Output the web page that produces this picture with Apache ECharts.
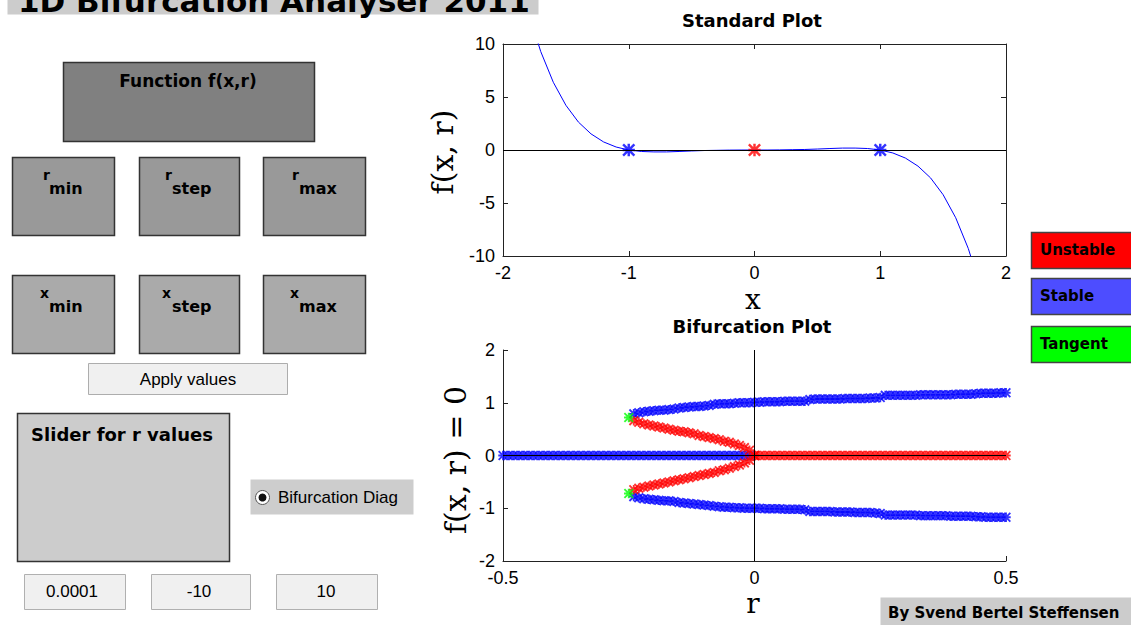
<!DOCTYPE html>
<html>
<head>
<meta charset="utf-8">
<script src="https://cdn.jsdelivr.net/npm/echarts@6/dist/echarts.min.js"></script>
<style>
html,body{margin:0;padding:0;background:#fff;}
#chart{width:1131px;height:625px;}
</style>
</head>
<body>
<div id="chart"></div>
<script>
// ---------- Standard plot data ----------
const xCurve = [-1.8,-1.7,-1.6,-1.5,-1.4,-1.3,-1.2,-1.1,-1.0,-0.9,-0.8,-0.7,-0.6,-0.5,-0.4,-0.3,-0.2,-0.1,0,0.1,0.2,0.3,0.4,0.5,0.6,0.7,0.8,0.9,1.0,1.1,1.2,1.3,1.4,1.5,1.6,1.7,1.8];
const fCurve = [13.06,9.29,6.39,4.22,2.63,1.52,0.76,0.28,0,-0.14,-0.18,-0.18,-0.14,-0.09,-0.05,-0.03,-0.01,0,0,0,0.01,0.03,0.05,0.09,0.14,0.18,0.18,0.14,0,-0.28,-0.76,-1.52,-2.63,-4.22,-6.39,-9.29,-13.06];
const rootStableX = [-1, 1];
const rootStableY = [0, 0];
const rootUnstableX = [0];
const rootUnstableY = [0];

// ---------- Bifurcation plot data ----------
const rZeroStable = [-0.50,-0.49,-0.48,-0.47,-0.46,-0.45,-0.44,-0.43,-0.42,-0.41,-0.40,-0.39,-0.38,-0.37,-0.36,-0.35,-0.34,-0.33,-0.32,-0.31,-0.30,-0.29,-0.28,-0.27,-0.26,-0.25,-0.24,-0.23,-0.22,-0.21,-0.20,-0.19,-0.18,-0.17,-0.16,-0.15,-0.14,-0.13,-0.12,-0.11,-0.10,-0.09,-0.08,-0.07,-0.06,-0.05,-0.04,-0.03,-0.02,-0.01];
const xZeroStable = [0,0,0,0,0,0,0,0,0,0,0,0,0,0,0,0,0,0,0,0,0,0,0,0,0,0,0,0,0,0,0,0,0,0,0,0,0,0,0,0,0,0,0,0,0,0,0,0,0,0];
const rZeroUnstable = [0.00,0.01,0.02,0.03,0.04,0.05,0.06,0.07,0.08,0.09,0.10,0.11,0.12,0.13,0.14,0.15,0.16,0.17,0.18,0.19,0.20,0.21,0.22,0.23,0.24,0.25,0.26,0.27,0.28,0.29,0.30,0.31,0.32,0.33,0.34,0.35,0.36,0.37,0.38,0.39,0.40,0.41,0.42,0.43,0.44,0.45,0.46,0.47,0.48,0.49,0.50];
const xZeroUnstable = [0,0,0,0,0,0,0,0,0,0,0,0,0,0,0,0,0,0,0,0,0,0,0,0,0,0,0,0,0,0,0,0,0,0,0,0,0,0,0,0,0,0,0,0,0,0,0,0,0,0,0];
const rOuter = [-0.24,-0.23,-0.22,-0.21,-0.20,-0.19,-0.18,-0.17,-0.16,-0.15,-0.14,-0.13,-0.12,-0.11,-0.10,-0.09,-0.08,-0.07,-0.06,-0.05,-0.04,-0.03,-0.02,-0.01,0.00,0.01,0.02,0.03,0.04,0.05,0.06,0.07,0.08,0.09,0.10,0.11,0.12,0.13,0.14,0.15,0.16,0.17,0.18,0.19,0.20,0.21,0.22,0.23,0.24,0.25,0.26,0.27,0.28,0.29,0.30,0.31,0.32,0.33,0.34,0.35,0.36,0.37,0.38,0.39,0.40,0.41,0.42,0.43,0.44,0.45,0.46,0.47,0.48,0.49,0.50];
const xOuterUpper = [0.79,0.81,0.83,0.84,0.85,0.86,0.86,0.87,0.88,0.90,0.91,0.92,0.93,0.93,0.94,0.95,0.97,0.98,0.98,0.98,0.99,1.00,1.00,1.00,1.01,1.01,1.02,1.02,1.02,1.02,1.03,1.03,1.03,1.03,1.03,1.06,1.07,1.07,1.07,1.07,1.07,1.07,1.08,1.08,1.08,1.08,1.08,1.09,1.09,1.10,1.14,1.14,1.14,1.14,1.14,1.14,1.14,1.15,1.15,1.15,1.15,1.15,1.15,1.15,1.16,1.16,1.16,1.16,1.17,1.18,1.18,1.18,1.18,1.19,1.19];
const xOuterLower = [-0.78,-0.80,-0.82,-0.83,-0.84,-0.85,-0.86,-0.86,-0.87,-0.89,-0.90,-0.91,-0.92,-0.93,-0.94,-0.95,-0.96,-0.97,-0.98,-0.98,-0.99,-0.99,-1.00,-1.00,-1.00,-1.00,-1.01,-1.01,-1.01,-1.01,-1.02,-1.02,-1.02,-1.02,-1.03,-1.06,-1.06,-1.06,-1.06,-1.06,-1.07,-1.07,-1.07,-1.07,-1.08,-1.08,-1.08,-1.08,-1.09,-1.10,-1.13,-1.13,-1.13,-1.13,-1.13,-1.13,-1.13,-1.14,-1.14,-1.14,-1.14,-1.14,-1.14,-1.15,-1.15,-1.15,-1.15,-1.15,-1.16,-1.16,-1.17,-1.17,-1.17,-1.17,-1.17];
const rInner = [-0.24,-0.23,-0.22,-0.21,-0.20,-0.19,-0.18,-0.17,-0.16,-0.15,-0.14,-0.13,-0.12,-0.11,-0.10,-0.09,-0.08,-0.07,-0.06,-0.05,-0.04,-0.03,-0.02,-0.01,0.00];
const xInnerUpper = [0.66,0.63,0.60,0.58,0.56,0.54,0.52,0.50,0.48,0.46,0.45,0.43,0.41,0.38,0.36,0.34,0.32,0.30,0.27,0.25,0.22,0.19,0.15,0.10,0.00];
const xInnerLower = [-0.65,-0.62,-0.60,-0.58,-0.56,-0.54,-0.52,-0.50,-0.48,-0.46,-0.44,-0.42,-0.40,-0.38,-0.36,-0.34,-0.32,-0.29,-0.27,-0.24,-0.21,-0.18,-0.14,-0.09,0.00];
const rTangent = [-0.25, -0.25];
const xTangent = [0.72, -0.72];

// tick settings
const stdXTicks = { min: -2, max: 2, interval: 1 };
const stdYTicks = { min: -10, max: 10, interval: 5 };
const bifXTicks = { min: -0.5, max: 0.5, interval: 0.5 };
const bifYTicks = { min: -2, max: 2, interval: 1 };

// ---------- helpers ----------
const zip = (a, b) => a.map((v, i) => [v, b[i]]);
const STAR = 'path://M4,0H6V10H4Z M0,4H10V6H0Z M1.1,-0.3L10.3,8.9L8.9,10.3L-0.3,1.1Z M8.9,-0.3L10.3,1.1L1.1,10.3L-0.3,8.9Z';
const SANS = '"Liberation Sans", Arial, sans-serif';
const BOLD = '"DejaVu Sans", Verdana, sans-serif';
const SERIF = '"DejaVu Serif", serif';
const AX = '#222';

function axisBase(gridIndex, ticks, extra) {
  return Object.assign({
    type: 'value', gridIndex: gridIndex,
    min: ticks.min, max: ticks.max, interval: ticks.interval,
    axisLine: { show: true, onZero: false, lineStyle: { color: AX, width: 1 } },
    axisTick: { show: true, inside: true, length: 5, lineStyle: { color: AX } },
    axisLabel: { show: true, color: '#000', fontSize: 18, fontFamily: SANS, margin: 8, showMinLabel: true, showMaxLabel: true },
    splitLine: { show: false }
  }, extra || {});
}

function rect(x, y, w, h, fill, stroke, lw) {
  return { type: 'rect', shape: { x: x + 0.5, y: y + 0.5, width: w, height: h },
    style: { fill: fill, stroke: stroke || null, lineWidth: lw || (stroke ? 1 : 0) }, silent: true };
}
function txt(text, x, y, font, align, fill, rot, sx) {
  const t = { type: 'text', x: x, y: y, silent: true,
    style: { text: text, font: font, fill: fill || '#000', textAlign: align || 'left', textVerticalAlign: 'middle' } };
  if (rot) t.rotation = rot;
  if (sx) t.scaleX = sx;
  return t;
}

const graphics = [
  // title bar
  rect(7, -3, 531, 17, '#cccccc'),
  txt('1D Bifurcation Analyser 2011', 18, 1, 'bold 31px ' + BOLD, 'left'),
  // function box
  rect(63, 62, 251, 79, '#808080', '#333', 1.5),
  txt('Function f(x,r)', 188, 81, 'bold 17px ' + BOLD, 'center'),
  // r boxes
  rect(12, 157, 102, 78, '#999999', '#333', 1.5),
  rect(139, 157, 100, 78, '#999999', '#333', 1.5),
  rect(263, 157, 102, 78, '#999999', '#333', 1.5),
  txt('r', 43, 175, 'bold 14px ' + BOLD), txt('min', 49, 188, 'bold 16px ' + BOLD),
  txt('r', 165, 175, 'bold 14px ' + BOLD), txt('step', 172, 188, 'bold 16px ' + BOLD),
  txt('r', 292, 175, 'bold 14px ' + BOLD), txt('max', 299, 188, 'bold 16px ' + BOLD),
  // x boxes
  rect(12, 275, 102, 78, '#aaaaaa', '#333', 1.5),
  rect(139, 275, 100, 78, '#aaaaaa', '#333', 1.5),
  rect(263, 275, 102, 78, '#aaaaaa', '#333', 1.5),
  txt('x', 40, 293, 'bold 14px ' + BOLD), txt('min', 49, 306, 'bold 16px ' + BOLD),
  txt('x', 162, 293, 'bold 14px ' + BOLD), txt('step', 172, 306, 'bold 16px ' + BOLD),
  txt('x', 290, 293, 'bold 14px ' + BOLD), txt('max', 299, 306, 'bold 16px ' + BOLD),
  // apply button
  rect(88, 363, 199, 31, '#f0f0f0', '#adadad', 1),
  txt('Apply values', 188, 379, '17px ' + SANS, 'center'),
  // slider panel
  rect(17, 413, 212, 148, '#cccccc', '#333', 1.5),
  txt('Slider for r values', 122, 434, 'bold 18px ' + BOLD, 'center'),
  // radio
  rect(250, 479, 163, 35, '#cdcdcd'),
  { type: 'circle', shape: { cx: 262.5, cy: 497.5, r: 7 }, style: { fill: '#fff', stroke: '#555', lineWidth: 1 }, silent: true },
  { type: 'circle', shape: { cx: 262.5, cy: 497.5, r: 4 }, style: { fill: '#111' }, silent: true },
  txt('Bifurcation Diag', 278, 497, '17px ' + SANS),
  // text boxes
  rect(24, 574, 101, 35, '#f0f0f0', '#b0b0b0', 1),
  rect(151, 574, 99, 35, '#f0f0f0', '#b0b0b0', 1),
  rect(276, 574, 101, 35, '#f0f0f0', '#b0b0b0', 1),
  txt('0.0001', 72, 591, '17px ' + SANS, 'center'),
  txt('-10', 199, 591, '17px ' + SANS, 'center'),
  txt('10', 326, 591, '17px ' + SANS, 'center'),
  // legend buttons
  rect(1031, 232, 102, 36, '#ff0000', '#444', 1.5),
  rect(1031, 278, 102, 36, '#4d4dff', '#444', 1.5),
  rect(1031, 326, 102, 36, '#00ff00', '#444', 1.5),
  txt('Unstable', 1040, 250, 'bold 15px ' + BOLD),
  txt('Stable', 1040, 296, 'bold 15px ' + BOLD),
  txt('Tangent', 1040, 344, 'bold 15px ' + BOLD),
  // footer
  rect(880, 597, 252, 30, '#cccccc'),
  txt('By Svend Bertel Steffensen', 888, 613, 'bold 15px ' + BOLD),
  // plot titles & axis names
  txt('Standard Plot', 752, 20, 'bold 18px ' + BOLD, 'center'),
  txt('Bifurcation Plot', 752, 326, 'bold 18px ' + BOLD, 'center'),
  txt('x', 753, 299, '28px ' + SERIF, 'center'),
  txt('r', 753, 603, '28px ' + SERIF, 'center'),
  txt('f(x, r)', 442, 152, '30px ' + SERIF, 'center', '#000', Math.PI / 2),
  txt('f(x, r) = 0', 455, 460, '30px ' + SERIF, 'center', '#000', Math.PI / 2)
];

const chart = echarts.init(document.getElementById('chart'), null, { renderer: 'svg' });
chart.setOption({
  animation: false,
  backgroundColor: '#ffffff',
  grid: [
    { left: 503, top: 44, width: 503, height: 212 },
    { left: 503, top: 350, width: 503, height: 211 }
  ],
  xAxis: [
    axisBase(0, stdXTicks, { position: 'bottom' }),
    axisBase(0, stdXTicks, { position: 'top', axisLabel: { show: false } }),
    axisBase(1, bifXTicks, { position: 'bottom' })
  ],
  yAxis: [
    axisBase(0, stdYTicks, { position: 'left' }),
    axisBase(0, stdYTicks, { position: 'right', axisLabel: { show: false } }),
    axisBase(1, bifYTicks, { position: 'left' })
  ],
  series: [
    {
      type: 'line', name: 'f(x,r)', xAxisIndex: 0, yAxisIndex: 0, z: 2,
      data: zip(xCurve, fCurve), showSymbol: false, clip: true,
      lineStyle: { color: '#0000ff', width: 1 },
      markLine: { silent: true, symbol: 'none', label: { show: false },
        lineStyle: { color: '#000', width: 1, type: 'solid' }, data: [{ yAxis: 0 }] }
    },
    {
      type: 'scatter', name: 'stable roots', xAxisIndex: 0, yAxisIndex: 0, z: 4,
      data: zip(rootStableX, rootStableY), symbol: STAR, symbolSize: 13,
      itemStyle: { color: '#0000ff' }
    },
    {
      type: 'scatter', name: 'unstable root', xAxisIndex: 0, yAxisIndex: 0, z: 4,
      data: zip(rootUnstableX, rootUnstableY), symbol: STAR, symbolSize: 13,
      itemStyle: { color: '#ff0000' }
    },
    {
      type: 'scatter', name: 'Stable', xAxisIndex: 2, yAxisIndex: 2, z: 2,
      data: [].concat(zip(rZeroStable, xZeroStable), zip(rOuter, xOuterUpper), zip(rOuter, xOuterLower)),
      symbol: STAR, symbolSize: 10, itemStyle: { color: '#0000ff' }
    },
    {
      type: 'scatter', name: 'Unstable', xAxisIndex: 2, yAxisIndex: 2, z: 2,
      data: [].concat(zip(rZeroUnstable, xZeroUnstable), zip(rInner, xInnerUpper), zip(rInner, xInnerLower)),
      symbol: STAR, symbolSize: 10, itemStyle: { color: '#ff0000' }
    },
    {
      type: 'scatter', name: 'Tangent', xAxisIndex: 2, yAxisIndex: 2, z: 5,
      data: zip(rTangent, xTangent), symbol: STAR, symbolSize: 10, itemStyle: { color: '#00ff00' },
      markLine: { silent: true, symbol: 'none', label: { show: false },
        lineStyle: { color: '#000', width: 1, type: 'solid' }, data: [{ yAxis: 0 }, { xAxis: 0 }] }
    }
  ],
  graphic: graphics
});
</script>
</body>
</html>
